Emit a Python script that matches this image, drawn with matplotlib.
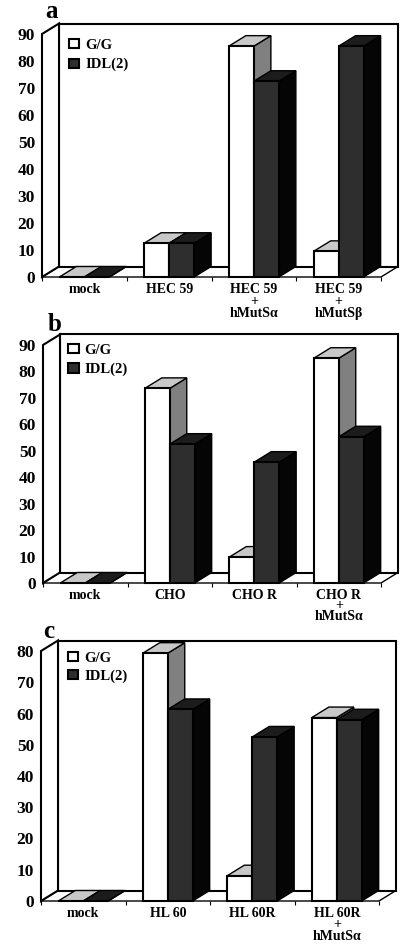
import numpy as np
import matplotlib
matplotlib.use("Agg")
import matplotlib.pyplot as plt

plt.rcParams['font.family'] = ['Liberation Serif', 'DejaVu Serif']
plt.rcParams['font.weight'] = 'bold'

W, H = 416, 949

labels_a = ['mock', 'HEC 59', 'HEC 59\n+\nhMutSα', 'HEC 59\n+\nhMutSβ']
gg_a = [0, 12.5, 85.5, 9.5]
idl_a = [0, 12.5, 72.5, 85.5]

labels_b = ['mock', 'CHO', 'CHO R', 'CHO R\n+\nhMutSα']
gg_b = [0, 73.6, 9.8, 85]
idl_b = [0, 52.5, 45.7, 55.3]

labels_c = ['mock', 'HL 60', 'HL 60R', 'HL 60R\n+\nhMutSα']
gg_c = [0, 79.3, 8.1, 58.7]
idl_c = [0, 61.3, 52.5, 58]

series_names = ['G/G', 'IDL(2)']


def panel(letter, labels, gg, idl, ymax, box, letter_xy, legend_xy, rowgap, spacing):
    # box = left, right, y of zero, y of top, all in pixels from the top left
    left, right, y0, ytop = box
    ax = fig.add_axes([left / W, 1 - y0 / H, (right - left) / W, (y0 - ytop) / H])
    ax.set_xlim(0, 4)
    ax.set_ylim(0, ymax)
    for s in ax.spines.values():
        s.set_visible(False)
    ax.patch.set_visible(False)

    # depth of the fake 3d, 17 px right and 10.5 px up
    dx = 17 / (right - left) * 4
    dy = 10.5 / (y0 - ytop) * ymax
    lw = 1.5

    # floor first so the heavier wall line sits on top of it
    ax.fill([0, 4, 4 + dx, dx], [0, 0, dy, dy], fc='white', ec='black', lw=1, clip_on=False, zorder=1)
    ax.fill([dx, 4 + dx, 4 + dx, dx], [dy, dy, ymax + dy, ymax + dy], fc='white', ec='black', lw=lw, clip_on=False, zorder=2)
    ax.fill([0, dx, dx, 0], [0, dy, ymax + dy, ymax], fc='white', ec='black', lw=lw, clip_on=False, zorder=2)

    w = 0.295
    z = 3
    x = np.arange(len(labels)) + 0.5
    for i in range(len(labels)):
        for xb, v, front, top, side, name in [
            (x[i] - w, gg[i], 'white', '#c8c8c8', '#808080', series_names[0]),
            (x[i], idl[i], '#2e2e2e', '#1c1c1c', '#050505', series_names[1]),
        ]:
            ax.fill([xb + w, xb + w + dx, xb + w + dx, xb + w], [0, dy, v + dy, v],
                    fc=side, ec='black', lw=1, clip_on=False, zorder=z)
            ax.fill([xb, xb + w, xb + w + dx, xb + dx], [v, v, v + dy, v + dy],
                    fc=top, ec='black', lw=1, clip_on=False, zorder=z)
            ax.bar(xb, v, w, align='edge', color=front, edgecolor='black', lw=lw,
                   clip_on=False, zorder=z, label=name if i == 0 else None)
            z += 1

    ax.set_yticks(np.arange(0, ymax + 1, 10))
    ax.tick_params(axis='y', length=0, pad=5, labelsize=12.5)
    ax.set_xticks(x)
    ax.set_xticklabels(labels, fontsize=10, linespacing=spacing)
    ax.set_xticks(np.arange(0, 5), minor=True)
    ax.tick_params(axis='x', which='major', length=0, pad=4)
    ax.tick_params(axis='x', which='minor', length=3, width=0.8)

    leg = ax.legend(loc='upper left', bbox_to_anchor=legend_xy, frameon=False, fontsize=10.5,
                    handlelength=0.7, handleheight=0.6, handletextpad=0.4,
                    labelspacing=rowgap, borderpad=0, borderaxespad=0)
    leg.set_zorder(50)

    fig.text(letter_xy[0] / W, 1 - letter_xy[1] / H, letter, fontsize=18, ha='left', va='baseline')
    return ax


fig = plt.figure(figsize=(W / 100, H / 100), dpi=100, facecolor='white')

panel('a', labels_a, gg_a, idl_a, 90, (42, 381, 277, 34), (45, 18), (0.08, 0.98), 0.42, 0.9)
panel('b', labels_b, gg_b, idl_b, 90, (43, 381, 583, 345), (48, 331), (0.075, 1.005), 0.42, 0.75)
panel('c', labels_c, gg_c, idl_c, 80, (41, 379, 901, 651), (43, 638), (0.08, 0.996), 0.3, 0.85)

fig.savefig('out.png', dpi=100)
